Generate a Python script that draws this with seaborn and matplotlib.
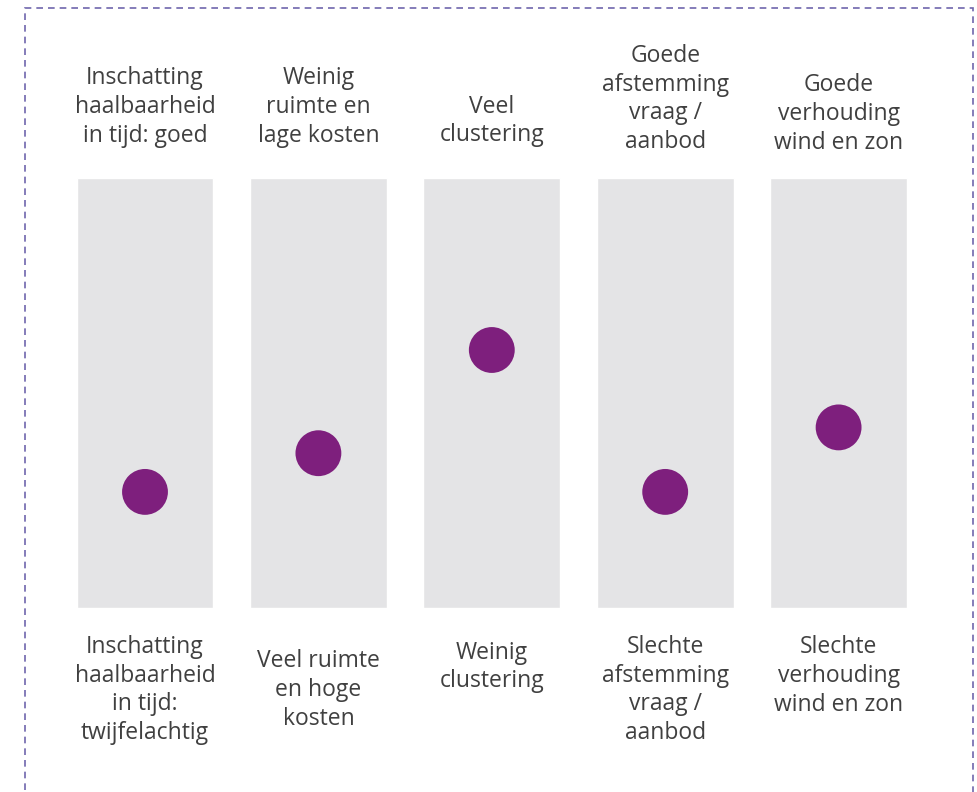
import matplotlib
matplotlib.use("Agg")
import matplotlib.pyplot as plt
import matplotlib.transforms as mtransforms
from matplotlib.patches import Rectangle
import seaborn as sns
import pandas as pd

# criteria (index 0..4), score on a 0-10 scale (10 = top label, 0 = bottom label)
criteria = ["tijd", "ruimte", "clustering", "afstemming", "wind_zon"]
scores = [2.7, 3.6, 6.0, 2.7, 4.2]
scale_max = [10, 10, 10, 10, 10]

top_labels = [
    "Inschatting\nhaalbaarheid\nin tijd: goed",
    "Weinig\nruimte en\nlage kosten",
    "Veel\nclustering",
    "Goede\nafstemming\nvraag /\naanbod",
    "Goede\nverhouding\nwind en zon",
]
bottom_labels = [
    "Inschatting\nhaalbaarheid\nin tijd:\ntwijfelachtig",
    "Veel ruimte\nen hoge\nkosten",
    "Weinig\nclustering",
    "Slechte\nafstemming\nvraag /\naanbod",
    "Slechte\nverhouding\nwind en zon",
]
# vertical centres of the label blocks (pixels from top)
top_label_y = [107, 107, 121, 99, 114]
bottom_label_y = [690, 690, 667, 690, 676]

df = pd.DataFrame({"criterium": criteria, "score": scores, "max": scale_max})

sns.set_theme(style="white")
plt.rcParams["font.family"] = ["Open Sans", "DejaVu Sans"]

W, H = 977, 792
fig = plt.figure(figsize=(W / 100, H / 100), dpi=100)
ax = fig.add_axes([58.3 / W, (H - 608) / H, 867 / W, 430 / H])

sns.barplot(data=df, x="criterium", y="max", color="#e4e4e6", width=0.79,
            saturation=1, ax=ax)
sns.scatterplot(data=df, x="criterium", y="score", color="#7e1f7d", s=1090,
                edgecolor="none", ax=ax, zorder=3)

ax.set_xlim(-0.5, 4.5)
ax.set_ylim(0, 10)
ax.set_axis_off()

trans = mtransforms.blended_transform_factory(ax.transData, fig.transFigure)
for i in range(len(criteria)):
    ax.text(i, 1 - top_label_y[i] / H, top_labels[i], transform=trans,
            ha="center", va="center", fontsize=16.5, color="#404040",
            linespacing=1.27)
    ax.text(i, 1 - bottom_label_y[i] / H, bottom_labels[i], transform=trans,
            ha="center", va="center", fontsize=16.5, color="#404040",
            linespacing=1.27)

# dashed frame around the figure
fig.patches.append(Rectangle((25 / W, -0.05), 948 / W, 1.05 - 8 / H,
                             transform=fig.transFigure, fill=False,
                             edgecolor="#6f66ad", linewidth=1.2,
                             linestyle=(0, (4, 3))))

fig.savefig("out.png", dpi=100)
